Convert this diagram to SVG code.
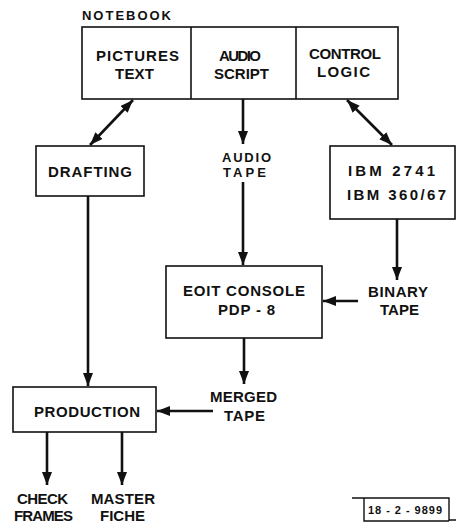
<svg xmlns="http://www.w3.org/2000/svg" width="456" height="525" viewBox="0 0 456 525">
  <style>
    .box { fill: #fff; stroke: #111; stroke-width: 1.6; }
    .lbl { font-family: "Liberation Sans", Arial, sans-serif; font-weight: bold; font-size: 15px; fill: #111; }
    .sm { font-size: 13px; }
    .tag { font-size: 11px; }
    .wire { fill: none; stroke: #111; stroke-width: 2.6; }
    .one { marker-end: url(#head); }
    .two { marker-start: url(#head); marker-end: url(#head); }
  </style>
  <defs>
    <marker id="head" markerUnits="userSpaceOnUse" markerWidth="13" markerHeight="10" refX="13" refY="5" orient="auto-start-reverse">
      <path d="M0,0 L13,5 L0,10 z" fill="#111"/>
    </marker>
  </defs>
  <rect width="456" height="525" fill="#fff"/>

  <!-- notebook with its three sections -->
  <g id="notebook">
    <text class="lbl sm" x="82" y="20" textLength="89" lengthAdjust="spacing">NOTEBOOK</text>
    <rect class="box" x="82" y="27" width="316" height="72"/>
    <line x1="191" y1="27" x2="191" y2="99" stroke="#111" stroke-width="1.6"/>
    <line x1="296" y1="27" x2="296" y2="99" stroke="#111" stroke-width="1.6"/>
  </g>
  <g id="pictures-text">
    <text class="lbl" x="96" y="61" textLength="83" lengthAdjust="spacing">PICTURES</text>
    <text class="lbl" x="115" y="79" textLength="39" lengthAdjust="spacing">TEXT</text>
  </g>
  <g id="audio-script">
    <text class="lbl" x="219" y="61" textLength="42" lengthAdjust="spacing">AUDIO</text>
    <text class="lbl" x="214" y="79" textLength="55" lengthAdjust="spacing">SCRIPT</text>
  </g>
  <g id="control-logic">
    <text class="lbl" x="309" y="59" textLength="72" lengthAdjust="spacing">CONTROL</text>
    <text class="lbl" x="317" y="77" textLength="53" lengthAdjust="spacing">LOGIC</text>
  </g>

  <g id="drafting">
    <rect class="box" x="36" y="146" width="108" height="50"/>
    <text class="lbl" x="48" y="177" textLength="84" lengthAdjust="spacing">DRAFTING</text>
  </g>

  <g id="audio-tape">
    <text class="lbl sm" x="222" y="162" textLength="49" lengthAdjust="spacing">AUDIO</text>
    <text class="lbl sm" x="223" y="177" textLength="43" lengthAdjust="spacing">TAPE</text>
  </g>

  <g id="ibm">
    <rect class="box" x="330" y="146" width="125" height="73"/>
    <text class="lbl" x="348" y="176" textLength="87" lengthAdjust="spacing">IBM 2741</text>
    <text class="lbl" x="347" y="200" textLength="99" lengthAdjust="spacing">IBM 360/67</text>
  </g>

  <g id="edit-console">
    <rect class="box" x="166" y="266" width="156" height="72"/>
    <text class="lbl" x="183" y="296" textLength="122" lengthAdjust="spacing">EOIT CONSOLE</text>
    <text class="lbl" x="218" y="315" textLength="57" lengthAdjust="spacing">PDP - 8</text>
  </g>

  <g id="binary-tape">
    <text class="lbl" x="368" y="297" textLength="60" lengthAdjust="spacing">BINARY</text>
    <text class="lbl" x="380" y="315" textLength="39" lengthAdjust="spacing">TAPE</text>
  </g>

  <g id="merged-tape">
    <text class="lbl" x="210" y="402" textLength="67" lengthAdjust="spacing">MERGED</text>
    <text class="lbl" x="224" y="421" textLength="41" lengthAdjust="spacing">TAPE</text>
  </g>

  <g id="production">
    <rect class="box" x="13" y="387" width="143" height="45"/>
    <text class="lbl" x="34" y="417" textLength="106" lengthAdjust="spacing">PRODUCTION</text>
  </g>

  <g id="check-frames">
    <text class="lbl" x="17" y="504" textLength="51" lengthAdjust="spacing">CHECK</text>
    <text class="lbl" x="14" y="521" textLength="59" lengthAdjust="spacing">FRAMES</text>
  </g>

  <g id="master-fiche">
    <text class="lbl" x="91" y="504" textLength="64" lengthAdjust="spacing">MASTER</text>
    <text class="lbl" x="100" y="521" textLength="45" lengthAdjust="spacing">FICHE</text>
  </g>

  <!-- drawing number tag -->
  <g id="tag">
    <path d="M352,498 H449 V521" fill="none" stroke="#111" stroke-width="1.4"/>
    <path d="M364,498 V521 H449 M449,520 H456" fill="none" stroke="#111" stroke-width="1.4"/>
    <text class="lbl tag" x="368" y="514" textLength="74" lengthAdjust="spacing">18 - 2 - 9899</text>
  </g>

  <g id="connectors">
    <line class="wire two" x1="133" y1="100" x2="90" y2="145"/>
    <line class="wire one" x1="243" y1="99" x2="243" y2="144"/>
    <line class="wire two" x1="347" y1="100" x2="392" y2="145"/>
    <line class="wire one" x1="88" y1="196" x2="88" y2="386"/>
    <line class="wire one" x1="243" y1="182" x2="243" y2="265"/>
    <line class="wire one" x1="397" y1="219" x2="397" y2="280"/>
    <line class="wire one" x1="358" y1="301" x2="323" y2="301"/>
    <line class="wire one" x1="244" y1="338" x2="244" y2="384"/>
    <line class="wire one" x1="213" y1="411" x2="157" y2="411"/>
    <line class="wire one" x1="47" y1="432" x2="47" y2="485"/>
    <line class="wire one" x1="122" y1="432" x2="122" y2="485"/>
  </g>
</svg>
